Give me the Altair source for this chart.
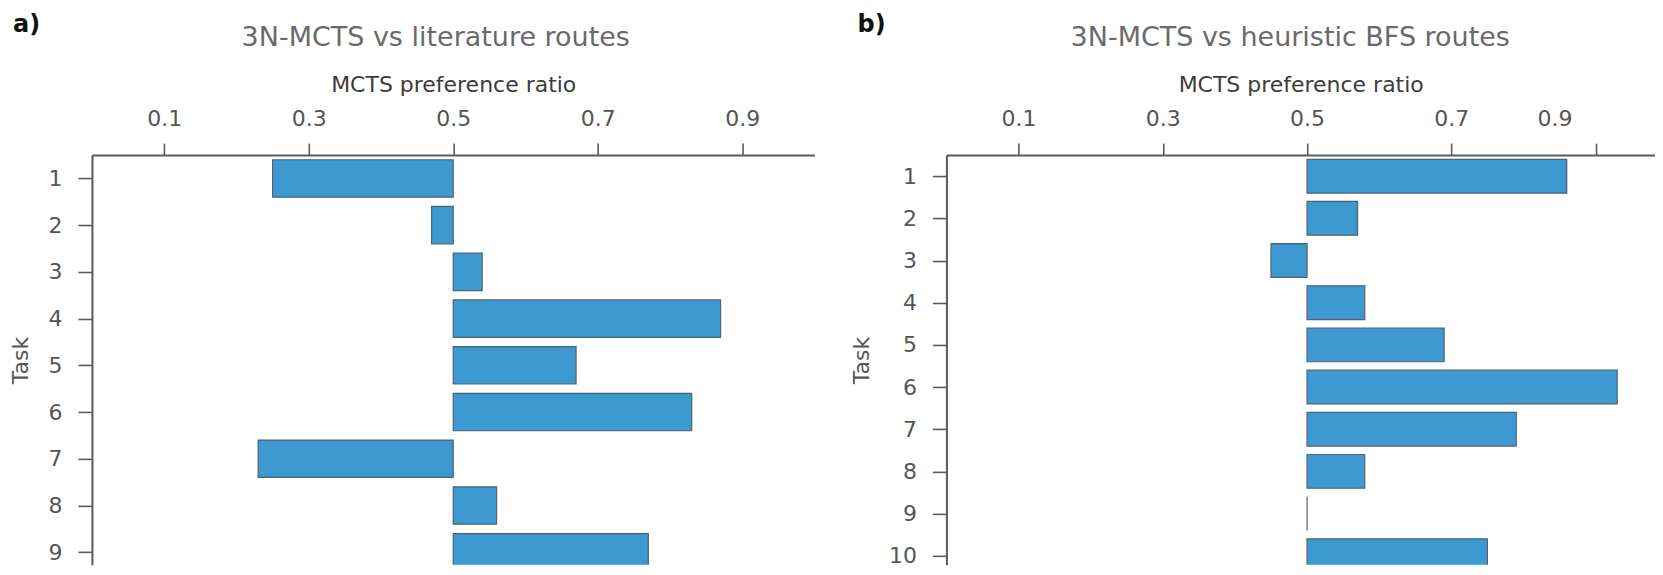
import altair as alt
import pandas as pd

# ---- data ----
tasks_a = [1, 2, 3, 4, 5, 6, 7, 8, 9]
ratio_a = [0.25, 0.47, 0.54, 0.87, 0.67, 0.83, 0.23, 0.56, 0.77]

tasks_b = [1, 2, 3, 4, 5, 6, 7, 8, 9, 10]
ratio_b = [0.86, 0.57, 0.45, 0.58, 0.69, 0.93, 0.79, 0.58, 0.50, 0.75]

x_ticks = [0.1, 0.3, 0.5, 0.7, 0.9]
baseline_ratio = 0.5

title_a = "3N-MCTS vs literature routes"
title_b = "3N-MCTS vs heuristic BFS routes"
x_title = "MCTS preference ratio"
y_title = "Task"

FONT = "DejaVu Sans"
BAR_FILL = "#3d99d1"
BAR_STROKE = "#4e6272"
AX = "#5a5a5a"
HEIGHT = 410


def panel(tasks, ratios, title, letter, xdom, ydom, width, letter_dx, last_label_offset):
    df = pd.DataFrame({"task": tasks, "ratio": ratios})
    bars = alt.Chart(df).transform_calculate(
        lo="datum.task - 0.4", hi="datum.task + 0.4"
    ).mark_bar(
        fill=BAR_FILL, stroke=BAR_STROKE, strokeWidth=1.2, clip=True
    ).encode(
        x=alt.X(
            "ratio:Q",
            scale=alt.Scale(domain=xdom, nice=False, zero=False),
            axis=alt.Axis(
                orient="top", values=x_ticks, format=".1f", title=x_title,
                labelOffset={"condition": {"test": "datum.value > 0.85", "value": last_label_offset}, "value": 0},
            ),
        ),
        x2=alt.datum(baseline_ratio),
        y=alt.Y(
            "lo:Q",
            scale=alt.Scale(domain=ydom, reverse=True, nice=False, zero=False),
            axis=alt.Axis(values=tasks, format="d", title=y_title),
        ),
        y2="hi:Q",
    )
    lab = alt.Chart(pd.DataFrame({"t": [letter]})).mark_text(
        align="left", baseline="alphabetic", font=FONT, fontSize=24, fontWeight="bold", color="#111111"
    ).encode(x=alt.value(letter_dx), y=alt.value(-123), text="t:N")
    ttl = alt.Chart(pd.DataFrame({"t": [title]})).mark_text(
        align="center", baseline="alphabetic", font=FONT, fontSize=27, color="#6a6a6a"
    ).encode(x=alt.value(344), y=alt.value(-109), text="t:N")
    return alt.layer(bars, lab, ttl).properties(width=width, height=HEIGHT)


pa = panel(tasks_a, ratio_a, title_a, "a)", [0, 1.0], [0.5, 0.5 + HEIGHT / 46.75], 723, -79, 0)
pb = panel(tasks_b, ratio_b, title_b, "b)", [0, 0.9824], [0.5, 0.5 + HEIGHT / 42.2], 709, -89, -41)

chart = alt.hconcat(pa, pb, spacing=132, bounds="flush").properties(
    padding={"left": 2, "top": 5, "right": 0, "bottom": 0}
).configure_view(stroke=None).configure_axis(
    domainColor=AX, domainWidth=2, tickColor=AX, tickWidth=1.6, grid=False,
    labelFont=FONT, labelFontSize=22, labelColor="#555555",
    titleFont=FONT, titleFontSize=22, titleFontWeight="normal", titleColor="#3c3c3c",
).configure_axisX(
    tickSize=12, labelPadding=13, titlePadding=11,
).configure_axisY(
    tickSize=14, labelPadding=16, titlePadding=15, titleColor="#555555",
)

chart.save("out.html", embed_options={"renderer": "svg", "actions": False})
